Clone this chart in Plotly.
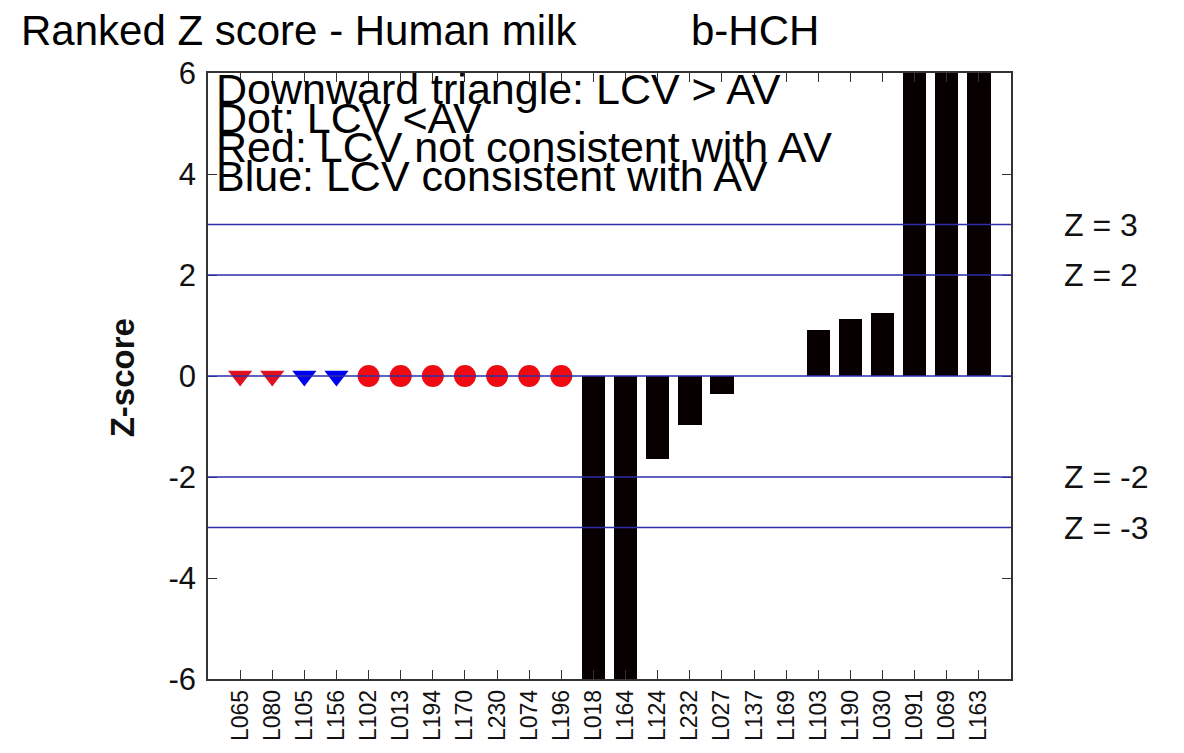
import plotly.graph_objects as go

# ---- data ----
labels = ["L065", "L080", "L105", "L156", "L102", "L013", "L194", "L170", "L230",
          "L074", "L196", "L018", "L164", "L124", "L232", "L027", "L137", "L169",
          "L103", "L190", "L030", "L091", "L069", "L163"]
# z-scores of labs with a reported value (None = shown as a marker instead)
bar_z = [None, None, None, None, None, None, None, None, None, None, None,
         -8.3, -7.1, -1.65, -0.98, -0.36, 0.0, 0.0, 0.92, 1.12, 1.24, 6.8, 9.2, 11.5]
# marker labs: symbol & colour
marker_labs = ["L065", "L080", "L105", "L156", "L102", "L013", "L194", "L170", "L230", "L074", "L196"]
marker_z = [0, 0, 0, 0, 0, 0, 0, 0, 0, 0, 0]
marker_kind = ["tri", "tri", "tri", "tri", "dot", "dot", "dot", "dot", "dot", "dot", "dot"]
marker_col = ["red", "red", "blue", "blue", "red", "red", "red", "red", "red", "red", "red"]
thresholds = [3, 2, 0, -2, -3]
threshold_labels = {3: "Z = 3", 2: "Z = 2", -2: "Z = -2", -3: "Z = -3"}
legend_lines = ["Downward triangle: LCV > AV", "Dot: LCV <AV",
                "Red: LCV not consistent with AV", "Blue: LCV consistent with AV"]

FONT = "Liberation Sans, Arial, sans-serif"
pos = {lab: i + 1 for i, lab in enumerate(labels)}
RED_TRI = "#e0101e"
RED_DOT = "#f00a12"
BLUE = "#0000f0"
LINE_BLUE = "#2e2ea8"

fig = go.Figure()

fig.add_trace(go.Bar(
    x=[pos[l] for l in labels], y=bar_z, width=0.73,
    marker=dict(color="#080000", line=dict(width=0)),
    showlegend=False, hoverinfo="x+y"))

for kind, sym, size in [("tri", "triangle-down", 21), ("dot", "circle", 22)]:
    xs, ys, cs = [], [], []
    for lab, z, k, c in zip(marker_labs, marker_z, marker_kind, marker_col):
        if k == kind:
            xs.append(pos[lab]); ys.append(z)
            if c == "red":
                cs.append(RED_TRI if kind == "tri" else RED_DOT)
            else:
                cs.append(BLUE)
    fig.add_trace(go.Scatter(
        x=xs, y=ys, mode="markers",
        marker=dict(symbol=sym, size=size, color=cs, line=dict(width=0)),
        showlegend=False, cliponaxis=False))

for z in thresholds:
    fig.add_shape(type="line", xref="paper", yref="y", x0=0, x1=1, y0=z, y1=z,
                  line=dict(color=LINE_BLUE, width=1.5), layer="above")
    if z in threshold_labels:
        fig.add_annotation(text=threshold_labels[z], xref="paper", yref="y",
                           x=1.064, y=z, xanchor="left", yanchor="middle",
                           showarrow=False, font=dict(family=FONT, size=32, color="#111"))

# legend-like text block inside the plot
leg_y = [0.9739, 0.9258, 0.8777, 0.8303]
for txt, yy in zip(legend_lines, leg_y):
    fig.add_annotation(text=txt, xref="paper", yref="paper", x=0.008, y=yy,
                       xanchor="left", yanchor="middle", showarrow=False,
                       font=dict(family=FONT, size=43, color="#000"))

# title
fig.add_annotation(text="Ranked Z score - Human milk", xref="paper", yref="paper",
                   x=-0.2355, y=1.0701, xanchor="left", yanchor="middle", showarrow=False,
                   font=dict(family=FONT, size=42, color="#000"))
fig.add_annotation(text="b-HCH", xref="paper", yref="paper",
                   x=0.5990, y=1.0701, xanchor="left", yanchor="middle", showarrow=False,
                   font=dict(family=FONT, size=42, color="#000"))
# y title
fig.add_annotation(text="<b>Z-score</b>", xref="paper", yref="paper",
                   x=-0.106, y=0.4976, xanchor="center", yanchor="middle", textangle=-90,
                   showarrow=False, font=dict(family=FONT, size=33, color="#111"))

# page body has an 8px margin: size the figure so the plot lands where the reference has it
fig.update_layout(
    width=1176, height=745,
    margin=dict(l=200, r=173, t=65, b=67),
    paper_bgcolor="white", plot_bgcolor="white",
    showlegend=False, bargap=0,
    font=dict(family=FONT, color="#111"),
)
fig.update_xaxes(
    range=[0, 25], tickmode="array", tickvals=[pos[l] for l in labels], ticktext=labels,
    tickangle=-90, tickfont=dict(family=FONT, size=23, color="#111"),
    ticks="inside", ticklen=9, tickcolor="#333", tickwidth=1,
    showline=True, linecolor="#333", linewidth=1.5, mirror="ticks",
    showgrid=False, zeroline=False, fixedrange=True,
)
fig.update_yaxes(
    range=[-6, 6], tickmode="array", tickvals=[-6, -4, -2, 0, 2, 4, 6],
    ticktext=["-6", "-4", "-2", "0", "2", "4", "6"],
    tickfont=dict(family=FONT, size=31, color="#111"),
    ticks="inside", ticklen=9, tickcolor="#333", tickwidth=1,
    showline=True, linecolor="#333", linewidth=1.5, mirror="ticks",
    showgrid=False, zeroline=False, fixedrange=True, ticklabelstandoff=4,
)

fig.write_html("out.html")
